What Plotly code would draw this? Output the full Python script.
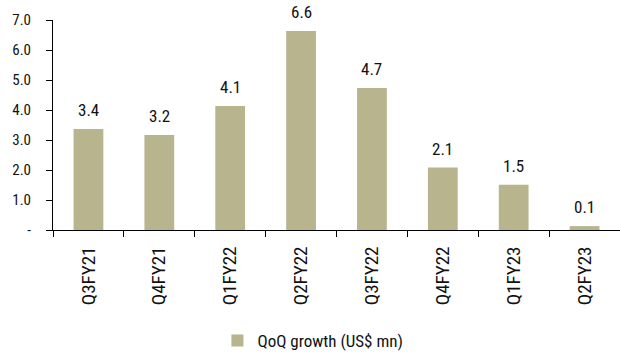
import plotly.graph_objects as go

categories = ["Q3FY21", "Q4FY21", "Q1FY22", "Q2FY22", "Q3FY22", "Q4FY22", "Q1FY23", "Q2FY23"]
values = [3.37, 3.17, 4.13, 6.63, 4.73, 2.08, 1.51, 0.13]
labels = ["3.4", "3.2", "4.1", "6.6", "4.7", "2.1", "1.5", "0.1"]
series_name = "QoQ growth (US$ mn)"
y_ticks = [0, 1, 2, 3, 4, 5, 6, 7]
y_ticktext = ["-", "1.0", "2.0", "3.0", "4.0", "5.0", "6.0", "7.0"]

FONT = "Liberation Sans Narrow, Arial Narrow, Roboto Condensed, sans-serif"
BAR = "#B8B48E"

fig = go.Figure()
fig.add_trace(go.Bar(x=categories, y=values, name=series_name, marker=dict(color=BAR, line=dict(width=0)),
                     showlegend=True))

for c, v, t in zip(categories, values, labels):
    fig.add_annotation(x=c, y=v, text=t, showarrow=False, yshift=19, yanchor="middle",
                       font=dict(family=FONT, size=17, color="#111111"))

fig.update_layout(
    width=620, height=359,
    margin=dict(l=53, r=0, t=20, b=128),
    plot_bgcolor="white", paper_bgcolor="white",
    bargap=0.58,
    font=dict(family=FONT, color="#111111"),
    showlegend=True,
    legend=dict(orientation="h", x=0.29, xanchor="left", y=-0.53, yanchor="middle",
                font=dict(family=FONT, size=17), itemwidth=30, tracegroupgap=0),
    xaxis=dict(showline=True, linecolor="black", linewidth=1, ticks="outside", ticklen=6,
               tickcolor="black", tickangle=-90, tickfont=dict(family=FONT, size=19),
               tickson="boundaries", showgrid=False, ticklabelstandoff=8),
    yaxis=dict(range=[0, 7], tickvals=y_ticks, ticktext=y_ticktext, showline=True,
               linecolor="black", linewidth=1, ticks="outside", ticklen=6, tickcolor="black",
               showgrid=False, zeroline=False, tickfont=dict(family=FONT, size=15), ticklabelstandoff=12),
)

fig.write_html("out.html")
